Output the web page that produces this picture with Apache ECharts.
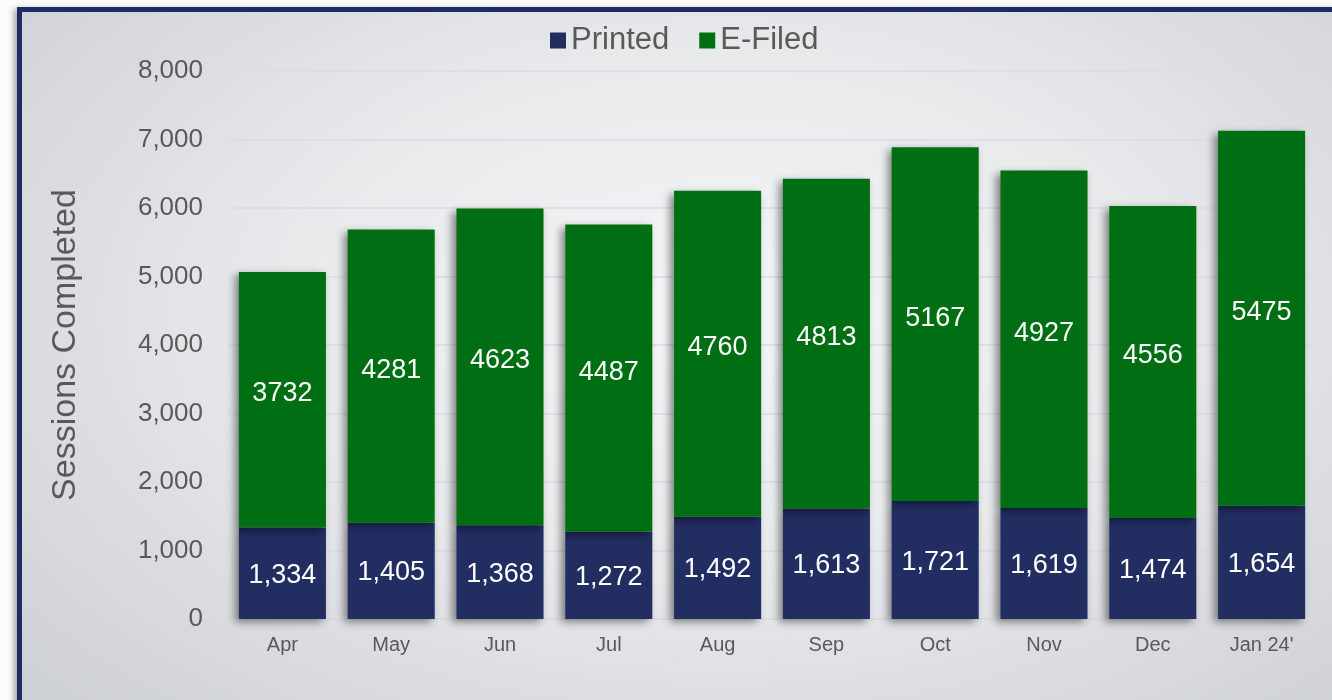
<!DOCTYPE html>
<html lang="en">
<head>
  <meta charset="UTF-8" />
  <title>Sessions Completed</title>
  <style>
    * { margin: 0; padding: 0; }
    html, body { width: 1332px; height: 700px; overflow: hidden; background: #fbfbfc; }
    .frame {
      position: absolute;
      left: 17px;
      top: 7px;
      width: 1340px;
      height: 720px;
      border: 5px solid #1f2b62;
      background: radial-gradient(ellipse at 52% 42%, #f5f6f7 0%, #e7e9eb 45%, #cacdd2 100%);
      box-shadow: -3px 2px 6px rgba(0,0,0,0.35);
    }
    #chart {
      position: absolute;
      left: 0;
      top: 0;
      width: 1332px;
      height: 700px;
    }
  </style>
</head>
<body>
  <div class="frame"></div>
  <div id="chart"></div>
  <script src="https://cdn.jsdelivr.net/npm/echarts@6/dist/echarts.min.js"></script>
  <script>
    var months = ['Apr', 'May', 'Jun', 'Jul', 'Aug', 'Sep', 'Oct', 'Nov', 'Dec', "Jan 24'"];
    var printed = [1334, 1405, 1368, 1272, 1492, 1613, 1721, 1619, 1474, 1654];
    var eFiled = [3732, 4281, 4623, 4487, 4760, 4813, 5167, 4927, 4556, 5475];

    var font = 'Liberation Sans, Arial, sans-serif';
    var barShadow = {
      shadowColor: 'rgba(0,0,0,0.45)',
      shadowBlur: 8,
      shadowOffsetX: -4,
      shadowOffsetY: 3
    };

    var myChart = echarts.init(document.getElementById('chart'));
    var options = {
      backgroundColor: 'transparent',
      legend: {
        top: 20,
        left: 545,
        itemWidth: 16,
        itemHeight: 16,
        itemGap: 30,
        icon: 'rect',
        textStyle: { fontFamily: font, fontSize: 31, color: '#595959' },
        data: ['Printed', 'E-Filed']
      },
      grid: { left: 228, right: 16, top: 71, bottom: 81 },
      xAxis: {
        type: 'category',
        data: months,
        axisTick: { show: false },
        axisLine: { lineStyle: { color: '#d9d9d9', width: 1.5 } },
        axisLabel: { fontFamily: font, fontSize: 20, color: '#595959', margin: 16 }
      },
      yAxis: {
        type: 'value',
        min: 0,
        max: 8000,
        interval: 1000,
        name: 'Sessions Completed',
        nameLocation: 'middle',
        nameGap: 145,
        nameTextStyle: { fontFamily: font, fontSize: 34, color: '#595959' },
        axisLabel: {
          fontFamily: font, fontSize: 26, color: '#595959', margin: 25,
          formatter: function (v) { return v.toLocaleString('en-US'); }
        },
        splitLine: { lineStyle: { color: '#dcdde0', width: 1.5 } }
      },
      series: [
        {
          name: 'Printed',
          type: 'bar',
          stack: 'total',
          barWidth: '80%',
          data: printed,
          itemStyle: Object.assign({ color: '#222d62' }, barShadow),
          label: {
            show: true,
            position: 'inside',
            offset: [0, 2],
            fontFamily: font,
            fontSize: 27,
            color: '#ffffff',
            formatter: function (p) { return p.value.toLocaleString('en-US'); }
          }
        },
        {
          name: 'E-Filed',
          type: 'bar',
          stack: 'total',
          data: eFiled,
          itemStyle: Object.assign({ color: '#006f13' }, barShadow),
          label: {
            show: true,
            position: 'inside',
            offset: [0, -6],
            fontFamily: font,
            fontSize: 27,
            color: '#ffffff'
          }
        }
      ]
    };
    myChart.setOption(options);
  </script>
</body>
</html>
